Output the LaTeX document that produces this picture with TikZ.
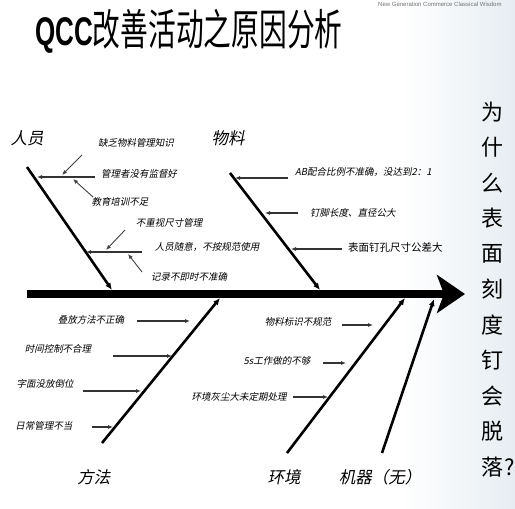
\documentclass[tikz,border=0pt]{standalone}
\usepackage{fontspec}
\usetikzlibrary{arrows.meta}
\newfontfamily\cjk{Noto Sans CJK SC}
\newfontfamily\cjki[FakeSlant=0.2]{Noto Sans CJK SC}
\newfontfamily\titlecjk[FakeStretch=0.645]{Noto Sans CJK SC}
\newfontfamily\qccfont[FakeStretch=0.65]{Liberation Sans}
\newfontfamily\smallsans{Liberation Sans}
\definecolor{bgblue}{RGB}{230,237,242}
\tikzset{
  cause/.style={font=\cjki\fontsize{9.5}{10}\selectfont, inner sep=0pt},
  causeup/.style={font=\cjk\fontsize{10.5}{11}\selectfont, inner sep=0pt},
  cat/.style={font=\cjki\fontsize{16.5}{18}\selectfont, inner sep=0pt},
  qchar/.style={font=\cjk\fontsize{22}{24}\selectfont, inner sep=0pt},
  spine/.style={line width=8pt, -{Stealth[length=28pt,width=38pt,inset=7pt]}},
  bone/.style={line width=2.6pt, -{Latex[length=7pt,width=6pt]}},
  sub/.style={line width=1.3pt, draw=black!80, -{Latex[length=5pt,width=4pt]}},
  subsub/.style={line width=0.9pt, draw=black!75, -{Latex[length=5pt,width=4pt]}},
}
\begin{document}
\begin{tikzpicture}[x=1pt,y=-1pt]
\useasboundingbox (0,0) rectangle (515,509);
\clip (0,0) rectangle (515,509);
\shade[left color=white,right color=bgblue] (400,0) rectangle (515,509);

% title
\node[anchor=base west, inner sep=0pt] (title) at (35,45)
  {{\qccfont\bfseries\fontsize{40}{42}\selectfont QCC}{\titlecjk\fontsize{43}{45}\selectfont 改善活动之原因分析}};
\node[anchor=west, inner sep=0pt, text=black!55, font=\smallsans\fontsize{6}{7}\selectfont] (tag) at (378,4) {New Generation Commerce Classical Wisdom};

% spine
\coordinate (sp0) at (27,294);
\coordinate (head) at (465,294);
\draw[spine] (sp0) -- (head);

% main bones
\coordinate (b1s) at (27,167);  \coordinate (b1e) at (112,290);
\coordinate (b2s) at (230,173); \coordinate (b2e) at (320,290);
\coordinate (b3s) at (102,443); \coordinate (b3e) at (220,298);
\coordinate (b4s) at (287,453); \coordinate (b4e) at (405,298);
\coordinate (b5s) at (382,453); \coordinate (b5e) at (434,299);
\draw[bone] (b1s) -- (b1e);
\draw[bone] (b2s) -- (b2e);
\draw[bone] (b3s) -- (b3e);
\draw[bone] (b4s) -- (b4e);
\draw[bone] (b5s) -- (b5e);

% category labels
\node[cat] (c1) at (27,138) {人员};
\node[cat] (c2) at (228,138) {物料};
\node[cat] (c3) at (94,477) {方法};
\node[cat] (c4) at (284,477) {环境};
\node[cat] (c5) at (380,477) {机器（无）};

% 人员 causes
\node[cause] (p1) at (136,143) {缺乏物料管理知识};
\node[cause] (p2) at (139,174) {管理者没有监督好};
\node[cause] (p3) at (120,202) {教育培训不足};
\node[cause] (p4) at (169,223) {不重视尺寸管理};
\node[cause] (p5) at (207,247) {人员随意，不按规范使用};
\node[cause] (p6) at (189,277) {记录不即时不准确};
\coordinate (p2a) at (95,177);  \coordinate (p2b) at (37,177);
\coordinate (p1a) at (82,155);  \coordinate (p1b) at (62,175);
\coordinate (p3a) at (93,197);  \coordinate (p3b) at (73,179);
\coordinate (p5a) at (142,252); \coordinate (p5b) at (86,252);
\coordinate (p4a) at (125,230); \coordinate (p4b) at (106,250);
\coordinate (p6a) at (142,272); \coordinate (p6b) at (128,254);
\draw[sub] (p2a) -- (p2b);
\draw[subsub] (p1a) -- (p1b);
\draw[subsub] (p3a) -- (p3b);
\draw[sub] (p5a) -- (p5b);
\draw[subsub] (p4a) -- (p4b);
\draw[subsub] (p6a) -- (p6b);

% 物料 causes
\node[cause, anchor=west] (m1) at (295,172) {AB配合比例不准确，没达到2：1};
\node[cause, anchor=west] (m2) at (310,213) {钉脚长度、直径公大};
\node[causeup, anchor=west] (m3) at (348,248) {表面钉孔尺寸公差大};
\coordinate (m1a) at (288,178); \coordinate (m1b) at (235,178);
\coordinate (m2a) at (298,213); \coordinate (m2b) at (265,213);
\coordinate (m3a) at (342,249); \coordinate (m3b) at (291,249);
\draw[sub] (m1a) -- (m1b);
\draw[sub] (m2a) -- (m2b);
\draw[sub] (m3a) -- (m3b);

% 方法 causes
\node[cause] (f1) at (91,320) {叠放方法不正确};
\node[cause] (f2) at (58,349) {时间控制不合理};
\node[cause] (f3) at (45,384) {字面没放倒位};
\node[cause] (f4) at (44,426) {日常管理不当};
\coordinate (f1a) at (137,321); \coordinate (f1b) at (190,321);
\coordinate (f2a) at (113,356); \coordinate (f2b) at (172,356);
\coordinate (f3a) at (83,391);  \coordinate (f3b) at (141,391);
\coordinate (f4a) at (92,427);  \coordinate (f4b) at (113,427);
\draw[sub] (f1a) -- (f1b);
\draw[sub] (f2a) -- (f2b);
\draw[sub] (f3a) -- (f3b);
\draw[sub] (f4a) -- (f4b);

% 环境 causes
\node[cause] (e1) at (298,322) {物料标识不规范};
\node[cause] (e2) at (277,361) {5s工作做的不够};
\node[cause] (e3) at (239,397) {环境灰尘大未定期处理};
\coordinate (e1a) at (342,325); \coordinate (e1b) at (373,325);
\coordinate (e2a) at (323,363); \coordinate (e2b) at (346,363);
\coordinate (e3a) at (293,397); \coordinate (e3b) at (328,397);
\draw[sub] (e1a) -- (e1b);
\draw[sub] (e2a) -- (e2b);
\draw[sub] (e3a) -- (e3b);

% effect (vertical question)
\foreach \c [count=\i] in {为,什,么,表,面,刻,度,钉,会,脱,落}
  \node[qchar] (q\i) at (492,{112+35.5*(\i-1)}) {\c};
\node[qchar, anchor=west] (qm) at ([xshift=1pt]q11.east) {?};
\end{tikzpicture}
\end{document}
